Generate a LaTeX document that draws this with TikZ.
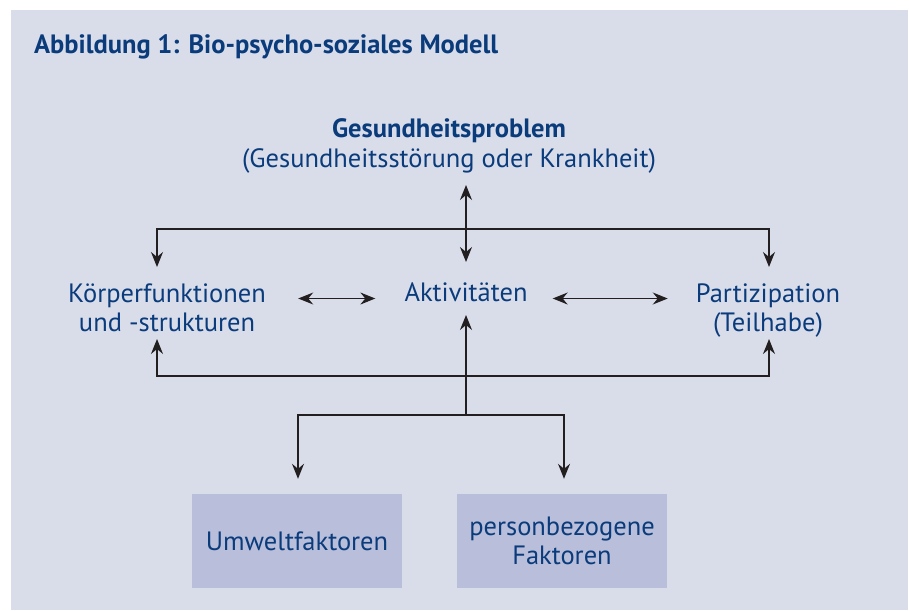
\documentclass[tikz,border=0pt]{standalone}
\usepackage{fontspec}
\setmainfont{PT Sans}
\usetikzlibrary{arrows.meta, positioning, calc}
\definecolor{panelbg}{HTML}{D9DDEA}
\definecolor{boxfill}{HTML}{B9BEDA}
\definecolor{navy}{HTML}{0A3B7B}
\definecolor{linegray}{HTML}{231F20}
\newcommand{\txt}{\fontsize{26.5}{29}\selectfont}

\begin{document}
\begin{tikzpicture}[x=1pt, y=-1pt, font=\txt,
  lbl/.style={text=navy, inner sep=0pt, align=center, anchor=base},
  fbox/.style={lbl, anchor=center, fill=boxfill, minimum width=210pt, minimum height=94pt},
  a/.style={-{Stealth[length=15pt, width=12pt, inset=5pt]}, line width=1.2pt, draw=linegray},
  aa/.style={a, {Stealth[length=15pt, width=12pt, inset=5pt]}-{Stealth[length=15pt, width=12pt, inset=5pt]}}]
  \useasboundingbox (0,0) rectangle (909,610);
  \fill[panelbg] (11,10) rectangle (908,610);
  \node[lbl, anchor=base west, font=\txt\bfseries] (title) at (34,54) {Abbildung 1: Bio-psycho-soziales Modell};
  \node[lbl, font=\txt\bfseries] (prob) at (449,137) {Gesundheitsproblem};
  \node[lbl] (probsub) at (449,167) {(Gesundheitsstörung oder Krankheit)};
  \node[lbl, minimum width=200pt] (koerper) at (167,331) {Körperfunktionen\\und -strukturen};
  \node[lbl, minimum width=122pt] (akt) at (466,301) {Aktivitäten};
  \node[lbl, minimum width=144pt] (part) at (768,331) {Partizipation\\(Teilhabe)};
  \node[fbox] (umwelt) at (297,541) {Umweltfaktoren};
  \node[fbox] (person) at (562,541) {personbezogene\\Faktoren};
  \coordinate (hub) at (466,229);
  \coordinate (bus) at (466,376);
  \coordinate (fork) at (466,415);
  % Gesundheitsproblem <-> Aktivitaeten
  \draw[aa] ([yshift=-18pt]akt.base |- probsub.base) -- ([yshift=39pt]akt.base);
  \draw[a] (hub) -| ([xshift=-10pt, yshift=64pt]koerper.base);
  \draw[a] (hub) -| ([xshift=1pt, yshift=64pt]part.base);
  % mittlere Reihe
  \draw[aa] ([xshift=31pt]koerper.east |- akt.mid) -- ([xshift=-29pt]akt.mid west);
  \draw[aa] ([xshift=25pt]akt.mid east) -- ([xshift=-28pt]part.west |- akt.mid);
  \draw[a] (bus) -| ([xshift=-10pt, yshift=-8pt]koerper.base);
  \draw[a] (bus) -| ([xshift=1pt, yshift=-8pt]part.base);
  % Kontextfaktoren
  \draw[a] (fork) -- ([yshift=-14pt]akt.base);
  \draw[a, shorten >=15pt] (fork) -| ([xshift=1pt]umwelt.north);
  \draw[a, shorten >=15pt] (fork) -| ([xshift=2pt]person.north);
\end{tikzpicture}
\end{document}
